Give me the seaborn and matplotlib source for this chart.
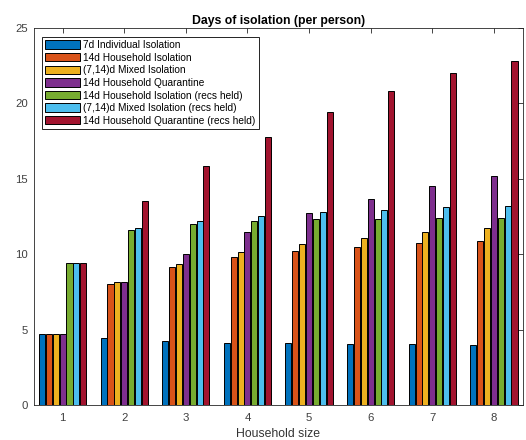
import matplotlib
matplotlib.use("Agg")
import matplotlib.pyplot as plt
import seaborn as sns
import pandas as pd

sizes = ["1", "2", "3", "4", "5", "6", "7", "8"]
series = [
    "7d Individual Isolation",
    "14d Household Isolation",
    "(7,14)d Mixed Isolation",
    "14d Household Quarantine",
    "14d Household Isolation (recs held)",
    "(7,14)d Mixed Isolation (recs held)",
    "14d Household Quarantine (recs held)",
]
ind_iso = [4.69, 4.46, 4.24, 4.13, 4.09, 4.02, 4.02, 3.98]
hh_iso = [4.69, 8.02, 9.13, 9.79, 10.21, 10.50, 10.76, 10.90]
mixed_iso = [4.69, 8.13, 9.33, 10.12, 10.68, 11.10, 11.47, 11.71]
hh_quar = [4.69, 8.13, 9.99, 11.47, 12.71, 13.66, 14.52, 15.16]
hh_iso_rh = [9.39, 11.63, 11.98, 12.20, 12.33, 12.33, 12.42, 12.42]
mixed_iso_rh = [9.39, 11.71, 12.18, 12.53, 12.78, 12.93, 13.15, 13.22]
hh_quar_rh = [9.39, 13.53, 15.85, 17.80, 19.43, 20.80, 22.00, 22.80]
colors = ["#0072BD", "#D95319", "#EDB120", "#7E2F8E", "#77AC30", "#4DBEEE", "#A2142F"]

all_vals = [ind_iso, hh_iso, mixed_iso, hh_quar, hh_iso_rh, mixed_iso_rh, hh_quar_rh]
rows = []
for name, vals in zip(series, all_vals):
    for s, v in zip(sizes, vals):
        rows.append({"size": s, "series": name, "days": v})
df = pd.DataFrame(rows)

sns.set_style("white")
plt.rcParams["font.family"] = ["Liberation Sans", "DejaVu Sans"]

fig = plt.figure(figsize=(5.26, 4.4), dpi=100)
ax = fig.add_axes([0.064, 0.0795, 0.93, 0.857])

sns.barplot(data=df, x="size", y="days", hue="series", order=sizes,
            hue_order=series, palette=colors, edgecolor="black",
            linewidth=0.7, width=0.78, gap=0.12, saturation=1, ax=ax,
            errorbar=None)

ax.set_ylim(0, 25)
ax.set_xlim(-0.47, 7.47)
ax.set_yticks([0, 5, 10, 15, 20, 25])
ax.set_title("Days of isolation (per person)", fontsize=8.8, fontweight="bold",
             pad=3, color="black")
ax.set_xlabel("Household size", fontsize=8.8, labelpad=3.5, color="#333333")
ax.set_ylabel("")
ax.tick_params(direction="in", top=True, right=True, labelsize=8.2,
               length=3.5, width=0.6, color="#262626", labelcolor="#404040",
               pad=4)
ax.tick_params(axis="x", pad=5.5)
for sp in ax.spines.values():
    sp.set_color("#262626")
    sp.set_linewidth(0.6)

h, l = ax.get_legend_handles_labels()
ax.get_legend().remove()
leg = ax.legend(h, l, loc="upper left", bbox_to_anchor=(0.017, 0.977),
                fontsize=7.3, frameon=True, fancybox=False, framealpha=1,
                edgecolor="black", handlelength=3.4, handleheight=0.9,
                handletextpad=0.35, labelspacing=0.26, borderpad=0.33,
                borderaxespad=0)
leg.get_frame().set_linewidth(0.6)
for t in leg.get_texts():
    t.set_color("black")

fig.savefig("out.png", dpi=100)
